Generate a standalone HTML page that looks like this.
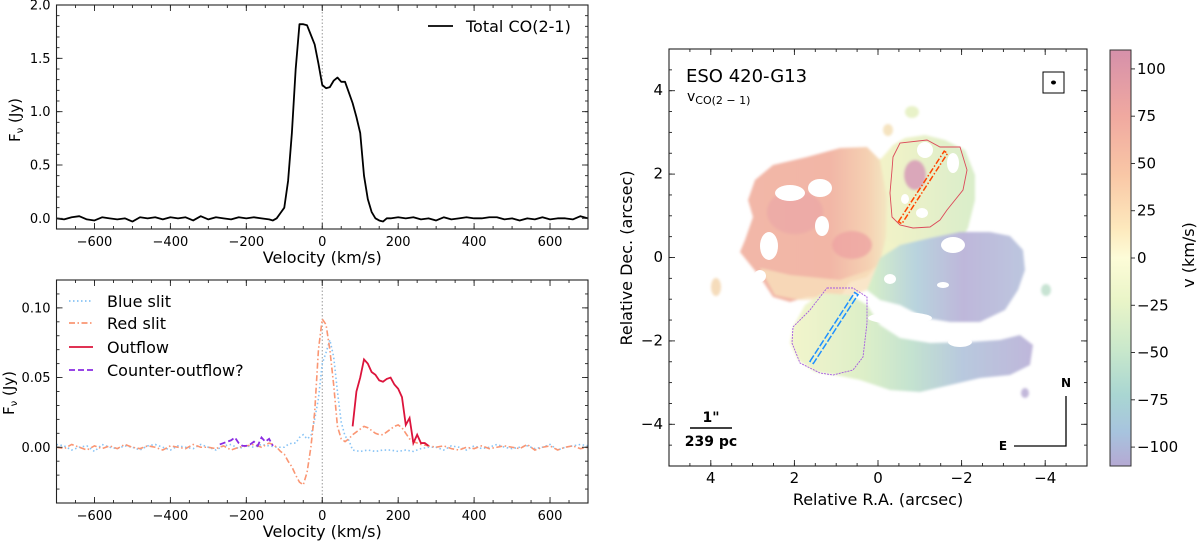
<!DOCTYPE html>
<html><head><meta charset="utf-8"><style>
html,body{margin:0;padding:0;background:#fff;}
svg{display:block;font-family:"DejaVu Sans","Liberation Sans",sans-serif;}
</style></head><body>
<svg id="fig" width="1200" height="542" viewBox="0 0 1200 542" xmlns="http://www.w3.org/2000/svg">
<defs>
<linearGradient id="gBody" gradientUnits="userSpaceOnUse" x1="740" y1="0" x2="890" y2="0">
<stop offset="0" stop-color="#f2b7a8"/><stop offset="0.6" stop-color="#f2b6a6"/><stop offset="0.85" stop-color="#f5d0b2"/><stop offset="1" stop-color="#f3eac4"/></linearGradient>
<linearGradient id="gUR" gradientUnits="userSpaceOnUse" x1="880" y1="0" x2="980" y2="0">
<stop offset="0" stop-color="#f3f3c8"/><stop offset="1" stop-color="#d8edca"/></linearGradient>
<linearGradient id="gRA" gradientUnits="userSpaceOnUse" x1="870" y1="0" x2="1025" y2="0">
<stop offset="0" stop-color="#d6eec8"/><stop offset="0.3" stop-color="#b8d3de"/><stop offset="0.6" stop-color="#beb7da"/><stop offset="1" stop-color="#bcc6df"/></linearGradient>
<linearGradient id="gBA" gradientUnits="userSpaceOnUse" x1="790" y1="0" x2="1035" y2="0">
<stop offset="0" stop-color="#f3f5cc"/><stop offset="0.3" stop-color="#ddefc8"/><stop offset="0.5" stop-color="#c3e2d0"/><stop offset="0.7" stop-color="#b8c9de"/><stop offset="1" stop-color="#bfb6da"/></linearGradient>
<linearGradient id="gCB" x1="0" y1="0" x2="0" y2="1">
<stop offset="0" stop-color="#d690aa"/><stop offset="0.16" stop-color="#f0a9a0"/><stop offset="0.3" stop-color="#f9c7a6"/><stop offset="0.43" stop-color="#fde9bd"/><stop offset="0.5" stop-color="#fdfcd8"/><stop offset="0.6" stop-color="#eaf5c8"/><stop offset="0.72" stop-color="#c9e8cb"/><stop offset="0.83" stop-color="#a9d6d2"/><stop offset="0.92" stop-color="#a7c3de"/><stop offset="1" stop-color="#b5a9d3"/></linearGradient>
<filter id="soft"><feGaussianBlur stdDeviation="1.2"/></filter>
<clipPath id="mapClip"><rect x="669" y="49" width="418" height="417"/></clipPath>
</defs>

<g clip-path="url(#mapClip)">
<g filter="url(#soft)">
<polygon fill="#f1f3c8" points="870,165 895,150 905,200 900,250 880,270 860,265 865,220"/>
<polygon fill="url(#gBody)" points="753,217 745,240 740,252 748,262 760,277 773,297 790,302 807,297 840,297 850,282 867,277 880,262 886,237 887,197 880,160 867,147 840,148 807,157 773,165 755,180 748,200"/>
<polygon fill="#f7e0bc" opacity="0.8" points="760,268 790,275 840,280 870,270 880,262 867,290 840,300 800,300 775,295"/>
<ellipse fill="#eba6a6" opacity="0.7" cx="795" cy="212" rx="28" ry="22"/>
<ellipse fill="#eea4a2" opacity="0.8" cx="852" cy="245" rx="20" ry="14"/>
<polygon fill="url(#gUR)" points="880,160 893,145 905,138 925,135 945,140 965,150 975,175 975,200 968,228 958,245 930,242 900,247 887,240 887,197"/>
<ellipse fill="#e8f2c8" cx="912" cy="112" rx="7" ry="6"/>
<ellipse fill="#f5e3c0" cx="888" cy="130" rx="5" ry="6"/>
<ellipse fill="#d89eb8" opacity="0.9" cx="915" cy="175" rx="11" ry="15"/>
<polygon fill="url(#gRA)" points="880,258 900,245 930,238 960,232 990,232 1010,236 1023,250 1025,270 1018,290 1005,310 980,322 950,322 925,318 900,305 880,300 867,290"/>
<polygon fill="url(#gBA)" points="793,327 805,305 823,293 850,295 867,305 880,325 900,338 930,343 970,342 1000,340 1020,335 1033,345 1030,365 1010,375 980,378 950,385 920,392 890,390 860,380 835,375 815,372 798,360 790,343"/>
<ellipse fill="#f5dcbb" cx="716" cy="287" rx="5" ry="9"/>
<ellipse fill="#c7e3d3" cx="1046" cy="290" rx="5" ry="6"/>
<ellipse fill="#c2b8da" cx="1025" cy="393" rx="4" ry="5"/>
</g>
<g fill="#ffffff">
<ellipse cx="790" cy="193" rx="15" ry="8"/><ellipse cx="820" cy="188" rx="12" ry="9"/>
<ellipse cx="822" cy="226" rx="7" ry="10"/><ellipse cx="769" cy="246" rx="9" ry="14"/>
<ellipse cx="760" cy="276" rx="6" ry="6"/><ellipse cx="953" cy="245" rx="12" ry="8"/>
<ellipse cx="890" cy="279" rx="6" ry="5"/><ellipse cx="943" cy="285" rx="6" ry="3"/>
<ellipse cx="925" cy="150" rx="8" ry="8"/><ellipse cx="953" cy="163" rx="6" ry="10"/>
<ellipse cx="922" cy="213" rx="6" ry="5"/><ellipse cx="900" cy="318" rx="32" ry="6"/>
<ellipse cx="960" cy="342" rx="12" ry="5"/><ellipse cx="905" cy="199" rx="4" ry="5"/>
</g>
<polygon fill="none" stroke="#dc4a5a" stroke-width="0.9" points="893,157 900,143 927,140 940,147 960,147 967,170 963,190 947,210 940,220 930,227 913,228 900,225 892,217 890,193 892,170"/>
<polygon fill="none" stroke="#a55ae0" stroke-width="0.9" stroke-dasharray="2,1" points="827,288 853,288 867,297 867,323 863,357 853,370 833,375 820,373 800,363 792,343 793,327 810,310 820,297"/>
<g transform="translate(923,187.5) rotate(-57)"><rect x="-42" y="-2" width="84" height="4" fill="none" stroke="#ff4500" stroke-width="1.5" stroke-dasharray="6,2,1.5,2"/></g>
<g transform="translate(834,328) rotate(-57)"><rect x="-41" y="-2" width="82" height="4" fill="none" stroke="#1e90ff" stroke-width="1.5" stroke-dasharray="7,2"/></g>
</g>
<g id="mapAxes"></g>
<text x="686" y="82" font-size="18">ESO 420-G13</text>
<text x="687" y="101" font-size="14">v<tspan font-size="11" dy="3">CO(2 − 1)</tspan></text>
<rect x="1043" y="72" width="21" height="21" fill="none" stroke="#000" stroke-width="1"/>
<ellipse cx="1053.5" cy="82.5" rx="2.5" ry="2" fill="#000"/>
<text x="711" y="422" font-size="14" font-weight="bold" text-anchor="middle">1"</text>
<line x1="690" y1="428" x2="732" y2="428" stroke="#000" stroke-width="1.5"/>
<text x="711" y="446" font-size="14" font-weight="bold" text-anchor="middle">239 pc</text>
<polyline points="1014,446 1066,446 1066,396" fill="none" stroke="#000" stroke-width="1.3"/>
<text x="1066" y="387" font-size="12" font-weight="bold" text-anchor="middle">N</text>
<text x="1003" y="450" font-size="12" font-weight="bold" text-anchor="middle">E</text>
<rect x="1110" y="50" width="21" height="416" fill="url(#gCB)" stroke="#333" stroke-width="1"/>
<g id="cbAxes"></g>
<g id="topChart"></g>
<g id="botChart"></g>
</svg>
<script>
// ---------- data ----------
const topVel = [-700,-680,-660,-640,-620,-600,-580,-560,-540,-520,-500,-480,-460,-440,-420,-400,-380,-360,-340,-320,-300,-280,-260,-240,-220,-200,-180,-160,-140,
-130,-120,-110,-100,-90,-80,-70,-60,-50,-40,-30,-20,-10,0,10,20,30,40,50,60,70,80,90,100,110,120,130,140,150,160,170,
180,200,220,240,260,280,300,320,340,360,380,400,420,440,460,480,500,520,540,560,580,600,620,640,660,680,700];
const topFlux = [0.0,-0.01,0.01,0.02,-0.01,-0.02,0.01,0.0,-0.01,0.0,-0.03,0.01,0.0,0.01,-0.01,0.01,0.0,0.01,-0.02,0.02,-0.01,0.01,0.0,-0.01,0.01,0.0,0.01,0.0,-0.01,
-0.02,0.0,0.05,0.1,0.35,0.8,1.4,1.82,1.82,1.81,1.72,1.63,1.45,1.25,1.22,1.23,1.29,1.32,1.28,1.28,1.18,1.08,0.95,0.8,0.4,0.18,0.06,0.0,-0.02,-0.03,0.0,
0.0,0.01,0.0,0.01,-0.01,0.0,-0.02,0.01,-0.01,0.0,0.01,0.0,0.0,0.01,0.01,-0.01,0.0,-0.02,0.0,-0.01,0.01,-0.01,0.0,0.0,-0.01,0.02,0.0];

const blueVel = [-700,-680,-660,-640,-620,-600,-580,-560,-540,-520,-500,-480,-460,-440,-420,-400,-380,-360,-340,-320,-300,-280,-260,-240,-220,-200,-180,-160,-140,-120,
-100,-90,-80,-70,-60,-50,-40,-30,-20,-10,0,10,20,30,40,50,60,70,80,100,120,140,160,180,200,220,240,260,280,300,
320,340,360,380,400,420,440,460,480,500,520,540,560,580,600,620,640,660,680,700];
const blueFlux = [0.002,0.001,-0.002,0.0,0.001,-0.003,0.002,0.0,-0.001,0.001,0.0,-0.002,0.001,0.002,0.0,-0.002,0.001,0.0,-0.001,0.002,0.0,-0.002,0.001,0.002,-0.001,0.001,0.0,0.002,0.001,0.0,
0.0,0.002,0.003,0.003,0.007,0.009,0.006,0.008,0.02,0.035,0.06,0.068,0.077,0.065,0.04,0.018,0.008,0.005,-0.002,-0.003,-0.002,-0.003,-0.002,-0.002,-0.003,-0.002,-0.003,-0.001,0.0,0.0,
-0.002,0.001,0.0,-0.002,0.001,-0.001,0.0,0.002,0.0,-0.001,0.0,0.001,-0.001,0.0,0.002,-0.002,0.0,0.001,0.002,0.001];

const redVel = [-700,-680,-660,-640,-620,-600,-580,-560,-540,-520,-500,-480,-460,-440,-420,-400,-380,-360,-340,-320,-300,-280,-260,-240,-220,-200,-180,-160,
-140,-130,-120,-110,-100,-90,-80,-70,-60,-50,-40,-30,-20,-10,0,10,20,30,40,50,60,70,80,90,100,110,120,130,140,150,160,170,180,190,200,210,220,230,240,260,280,300,
320,340,360,380,400,420,440,460,480,500,520,540,560,580,600,620,640,660,680,700];
const redFlux = [0.0,-0.001,0.002,0.0,-0.002,0.001,-0.001,0.001,-0.001,0.002,0.0,-0.001,0.001,0.0,-0.002,0.001,0.0,-0.001,0.002,0.0,0.0,-0.001,0.001,-0.002,0.0,0.001,0.002,0.0,
0.003,0.002,0.0,-0.003,-0.005,-0.01,-0.014,-0.02,-0.025,-0.027,-0.018,0.0,0.025,0.07,0.092,0.088,0.07,0.045,0.015,0.006,0.004,0.006,0.009,0.011,0.013,0.015,0.014,0.012,0.01,0.009,0.009,0.011,0.013,0.015,0.016,0.014,0.01,0.006,0.004,0.002,0.001,0.0,
0.001,-0.001,-0.002,0.0,-0.001,0.001,-0.001,0.0,0.001,0.0,-0.001,0.002,-0.002,0.0,0.001,-0.002,0.0,0.001,-0.001,0.0];

const outVel = [80,90,100,110,120,130,140,150,160,170,180,190,200,210,220,230,240,250,260,270,280];
const outFlux = [0.015,0.04,0.05,0.063,0.06,0.054,0.052,0.048,0.047,0.049,0.05,0.045,0.042,0.036,0.016,0.021,0.003,0.009,0.003,0.003,0.001];

const ctrVel = [-270,-260,-250,-240,-230,-220,-210,-200,-190,-180,-170,-160,-150,-140,-130];
const ctrFlux = [0.002,0.003,0.004,0.005,0.007,0.003,0.001,0.001,0.002,0.004,0.001,0.007,0.004,0.006,0.001];

const velTicks = [-600,-400,-200,0,200,400,600];
const topYTicks = [0.0,0.5,1.0,1.5,2.0];
const botYTicks = [0.0,0.05,0.10];
const mapTicks = [4,2,0,-2,-4];
const cbTicks = [100,75,50,25,0,-25,-50,-75,-100];

// ---------- helpers ----------
const NS = "http://www.w3.org/2000/svg";
function mk(tag, parent, attrs){const e=document.createElementNS(NS,tag);for(const k in attrs)e.setAttribute(k,attrs[k]);parent.appendChild(e);return e;}
function fmtNum(v,d){let s=v.toFixed(d);return s.replace('-','\u2212');}

function drawFrame(g, x0,y0,x1,y1, sx, sy, xMajor, xMinor, yMajor, yMinor, xDec, yDec, namePrefix){
  const fr = mk('rect', g, {x:x0,y:y0,width:x1-x0,height:y1-y0,fill:'none',stroke:'#222','stroke-width':1.1});
  
  
  const tg = mk('g', g, {stroke:'#222','stroke-width':0.9});
  
  
  xMinor.forEach(v=>{const x=sx(v);mk('line',tg,{x1:x,x2:x,y1:y1,y2:y1-3});mk('line',tg,{x1:x,x2:x,y1:y0,y2:y0+3});});
  yMinor.forEach(v=>{const y=sy(v);mk('line',tg,{x1:x0,x2:x0+3,y1:y,y2:y});mk('line',tg,{x1:x1,x2:x1-3,y1:y,y2:y});});
  xMajor.forEach(v=>{const x=sx(v);mk('line',tg,{x1:x,x2:x,y1:y1,y2:y1-6});mk('line',tg,{x1:x,x2:x,y1:y0,y2:y0+6});
    const t=mk('text',g,{x:x,y:y1+17,'font-size':13,'text-anchor':'middle'});t.textContent=fmtNum(v,xDec);
    
    });
  yMajor.forEach(v=>{const y=sy(v);mk('line',tg,{x1:x0,x2:x0+6,y1:y,y2:y});mk('line',tg,{x1:x1,x2:x1-6,y1:y,y2:y});
    const t=mk('text',g,{x:x0-6,y:y+4.5,'font-size':13,'text-anchor':'end'});t.textContent=fmtNum(v,yDec);
    
    });
}
function range(a,b,s){const r=[];for(let v=a;v<=b+1e-9;v+=s)r.push(+v.toFixed(4));return r;}
function linePath(xs,ys,sx,sy){return xs.map((v,i)=>(i?'L':'M')+sx(v).toFixed(2)+','+sy(ys[i]).toFixed(2)).join(' ');}

// ---------- top spectrum ----------
(function(){
  const g=document.getElementById('topChart');
  const x0=56.5,x1=588,y0=5,y1=229;
  const sx=v=>x0+(v+700)/1400*(x1-x0);
  const sy=v=>y1-(v+0.1)/2.1*(y1-y0);
  const zl=mk('line',g,{x1:sx(0),x2:sx(0),y1:y0,y2:y1,stroke:'#999','stroke-width':1,'stroke-dasharray':'1.5,2'});
  
  
  const p=mk('path',g,{d:linePath(topVel,topFlux,sx,sy),fill:'none',stroke:'#000','stroke-width':1.8,'stroke-linejoin':'round'});
  
  
  drawFrame(g,x0,y0,x1,y1,sx,sy,velTicks,range(-700,700,50),topYTicks,range(-0.1,2.0,0.1),0,1,'top');
  const xl=mk('text',g,{x:sx(0),y:263,'font-size':16,'text-anchor':'middle'});xl.textContent='Velocity (km/s)';
  
  
  const yl=mk('text',g,{x:0,y:0,'font-size':15,'text-anchor':'middle',transform:'translate(20,120) rotate(-90)'});
  yl.innerHTML='F<tspan font-size="10" dy="3">ν</tspan><tspan dy="-3"> (Jy)</tspan>';
  
  
  const lg=mk('g',g,{});
  
  
  mk('line',lg,{x1:428,x2:453,y1:26,y2:26,stroke:'#000','stroke-width':1.8});
  const lt=mk('text',lg,{x:466,y:32,'font-size':16});lt.textContent='Total CO(2-1)';
})();

// ---------- bottom spectrum ----------
(function(){
  const g=document.getElementById('botChart');
  const x0=56.5,x1=588,y0=280,y1=503;
  const sx=v=>x0+(v+700)/1400*(x1-x0);
  const sy=v=>y1-(v+0.04)/0.16*(y1-y0);
  const zl=mk('line',g,{x1:sx(0),x2:sx(0),y1:y0,y2:y1,stroke:'#999','stroke-width':1,'stroke-dasharray':'1.5,2'});
  
  
  const pb=mk('path',g,{d:linePath(blueVel,blueFlux,sx,sy),fill:'none',stroke:'#87c3f5','stroke-width':1.6,'stroke-dasharray':'1.5,2.5'});
  
  
  const pr=mk('path',g,{d:linePath(redVel,redFlux,sx,sy),fill:'none',stroke:'#fa9673','stroke-width':1.6,'stroke-dasharray':'6,2.5,1.5,2.5'});
  
  
  const po=mk('path',g,{d:linePath(outVel,outFlux,sx,sy),fill:'none',stroke:'#dc143c','stroke-width':1.8});
  
  
  const pc=mk('path',g,{d:linePath(ctrVel,ctrFlux,sx,sy),fill:'none',stroke:'#8a2be2','stroke-width':1.8,'stroke-dasharray':'6,3'});
  
  
  drawFrame(g,x0,y0,x1,y1,sx,sy,velTicks,range(-700,700,50),botYTicks,range(-0.04,0.12,0.01),0,2,'bottom');
  const xl=mk('text',g,{x:sx(0),y:537,'font-size':16,'text-anchor':'middle'});xl.textContent='Velocity (km/s)';
  
  
  const yl=mk('text',g,{x:0,y:0,'font-size':15,'text-anchor':'middle',transform:'translate(14,393) rotate(-90)'});
  yl.innerHTML='F<tspan font-size="10" dy="3">ν</tspan><tspan dy="-3"> (Jy)</tspan>';
  
  
  const items=[['Blue slit','#87c3f5','1.5,2.5',301],['Red slit','#fa9673','6,2.5,1.5,2.5',323],['Outflow','#dc143c','none',347],['Counter-outflow?','#8a2be2','6,3',370]];
  items.forEach(it=>{
    const lg=mk('g',g,{});
    
    
    mk('line',lg,{x1:69,x2:93,y1:it[3],y2:it[3],stroke:it[1],'stroke-width':1.8,'stroke-dasharray':it[2]});
    const t=mk('text',lg,{x:107,y:it[3]+6,'font-size':16});t.textContent=it[0];
  });
})();

// ---------- map axes ----------
(function(){
  const g=document.getElementById('mapAxes');
  const x0=669,x1=1087,y0=49,y1=466;
  const sx=v=>x0+(5-v)/10*(x1-x0);
  const sy=v=>y1-(v+5)/10*(y1-y0);
  drawFrame(g,x0,y0,x1,y1,sx,sy,mapTicks,range(-5,5,0.5),mapTicks,range(-5,5,0.5),0,0,'map');
  g.querySelectorAll('text').forEach(t=>{t.setAttribute('font-size',15);});
  const xl=mk('text',g,{x:878,y:505,'font-size':16,'text-anchor':'middle'});xl.textContent='Relative R.A. (arcsec)';
  
  
  const yl=mk('text',g,{x:0,y:0,'font-size':16,'text-anchor':'middle',transform:'translate(632,258) rotate(-90)'});yl.textContent='Relative Dec. (arcsec)';
  
  
})();

// ---------- colorbar axes ----------
(function(){
  const g=document.getElementById('cbAxes');
  const y0=50,y1=466;
  const sy=v=>y1-(v+110)/220*(y1-y0);
  cbTicks.forEach(v=>{
    const y=sy(v);
    mk('line',g,{x1:1131,x2:1135,y1:y,y2:y,stroke:'#222','stroke-width':0.9});
    const t=mk('text',g,{x:1137,y:y+5,'font-size':15});t.textContent=fmtNum(v,0);
    
    
  });
  const l=mk('text',g,{x:0,y:0,'font-size':16,'text-anchor':'middle',transform:'translate(1194,255) rotate(-90)'});l.textContent='v (km/s)';
  
  
})();
</script>
</body></html>
